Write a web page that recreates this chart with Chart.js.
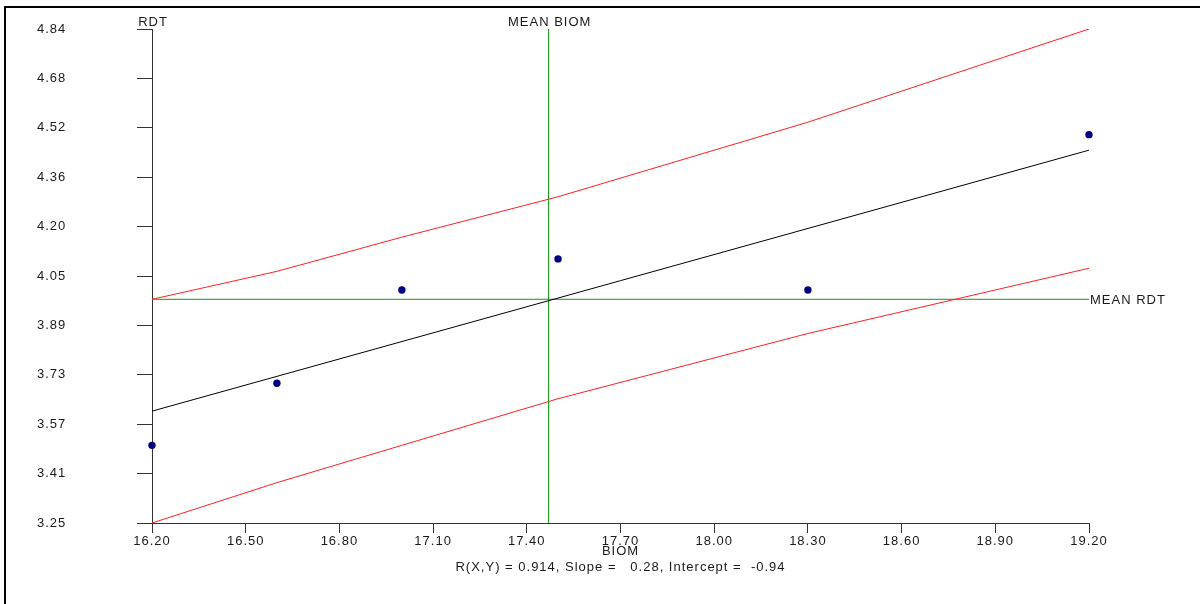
<!DOCTYPE html>
<html>
<head>
<meta charset="utf-8">
<script src="https://cdn.jsdelivr.net/npm/chart.js@4"></script>
<style>
  body { margin: 0; background: #fff; }
  #wrap { position: relative; width: 1200px; height: 604px; }
  #frame { position: absolute; left: 4px; top: 6px; right: 0; bottom: 0;
           border-top: 2px solid #000; border-left: 2px solid #000; pointer-events: none; }
</style>
</head>
<body>
<div id="wrap">
  <canvas id="chart" width="1200" height="604"></canvas>
  <div id="frame"></div>
</div>
<script>
"use strict";

// observations
const biom = [16.2, 16.6, 17.0, 17.5, 18.3, 19.2];
const rdt = [3.50, 3.70, 4.00, 4.10, 4.00, 4.50];

// fitted line and prediction band, read at each BIOM value
const fitX = [16.2, 19.2];
const fitY = [3.61, 4.45];
const bandUpper = [3.97, 4.06, 4.17, 4.30, 4.54, 4.84];
const bandLower = [3.25, 3.38, 3.50, 3.65, 3.86, 4.07];

const MEAN_BIOM = 17.47;
const MEAN_RDT = 3.97;

const xTickLabels = ["16.20", "16.50", "16.80", "17.10", "17.40", "17.70", "18.00", "18.30", "18.60", "18.90", "19.20"];
const yTickLabels = ["3.25", "3.41", "3.57", "3.73", "3.89", "4.05", "4.20", "4.36", "4.52", "4.68", "4.84"];
const X_MIN = 16.2, X_MAX = 19.2;
const Y_MIN = 3.25, Y_MAX = 4.84;

const statsText = "R(X,Y) = 0.914, Slope =   0.28, Intercept =  -0.94";

const FONT = "Arial, 'Liberation Sans', sans-serif";
const TEXT_COLOR = "#1a1a1a";

function pts(xs, ys) {
  return xs.map((x, i) => ({ x: x, y: ys[i] }));
}

function evenTicks(scale, min, max, n) {
  scale.ticks = [];
  for (let i = 0; i < n; i++) {
    scale.ticks.push({ value: min + (max - min) * i / (n - 1) });
  }
}

const lineStyle = (color) => ({
  borderColor: color,
  borderWidth: 1,
  pointRadius: 0,
  fill: false,
  tension: 0,
  showLine: true,
});

// extra labels: axis names, mean line names, statistics
const labelsPlugin = {
  id: "labels",
  beforeDraw(chart) {
    chart.ctx.letterSpacing = "1px";
  },
  afterDraw(chart) {
    const ctx = chart.ctx;
    const xs = chart.scales.x, ys = chart.scales.y;
    const area = chart.chartArea;
    ctx.save();
    ctx.letterSpacing = "1px";
    ctx.fillStyle = TEXT_COLOR;
    ctx.font = "13px " + FONT;
    ctx.textBaseline = "middle";

    ctx.textAlign = "center";
    ctx.fillText("RDT", area.left + 1, 22);
    ctx.fillText("MEAN BIOM", xs.getPixelForValue(MEAN_BIOM) + 1, 22);
    ctx.fillText("BIOM", (area.left + area.right) / 2, 551);
    ctx.fillText(statsText, (area.left + area.right) / 2, 567);

    ctx.textAlign = "left";
    ctx.fillText("MEAN RDT", area.right + 1, ys.getPixelForValue(MEAN_RDT) + 1);
    ctx.restore();
  }
};

const ctx = document.getElementById("chart").getContext("2d");
new Chart(ctx, {
  type: "scatter",
  data: {
    datasets: [
      Object.assign({ data: pts(biom, bandUpper) }, lineStyle("#ff2020")),
      Object.assign({ data: pts(biom, bandLower) }, lineStyle("#ff2020")),
      Object.assign({ data: pts(fitX, fitY) }, lineStyle("#000000")),
      Object.assign({ data: pts([X_MIN, X_MAX], [MEAN_RDT, MEAN_RDT]) }, lineStyle("#1f8f1f")),
      Object.assign({ data: pts([MEAN_BIOM, MEAN_BIOM], [Y_MIN, Y_MAX]) }, lineStyle("#008a00")),
      {
        data: pts(biom, rdt),
        pointStyle: "circle",
        pointRadius: 3.7,
        backgroundColor: "#000080",
        borderColor: "#000080",
        borderWidth: 0,
        showLine: false,
        clip: false,
      },
    ],
  },
  options: {
    responsive: false,
    animation: false,
    layout: { padding: { top: 29, right: 111, left: 37, bottom: 0 } },
    plugins: {
      legend: { display: false },
      tooltip: { enabled: false },
    },
    scales: {
      x: {
        type: "linear",
        min: X_MIN,
        max: X_MAX,
        afterBuildTicks: s => evenTicks(s, X_MIN, X_MAX, xTickLabels.length),
        afterFit: s => { s.height = 81; },
        grid: { drawOnChartArea: false, drawTicks: true, tickLength: 10, color: "#333" },
        border: { display: true, color: "#333", width: 1 },
        ticks: {
          autoSkip: false,
          maxRotation: 0,
          padding: 1,
          color: TEXT_COLOR,
          font: { family: FONT, size: 13 },
          callback: (v, i) => xTickLabels[i],
        },
      },
      y: {
        type: "linear",
        min: Y_MIN,
        max: Y_MAX,
        afterBuildTicks: s => evenTicks(s, Y_MIN, Y_MAX, yTickLabels.length),
        afterFit: s => { s.width = 115; },
        grid: { drawOnChartArea: false, drawTicks: true, tickLength: 15, color: "#333" },
        border: { display: true, color: "#333", width: 1 },
        ticks: {
          autoSkip: false,
          padding: 2,
          crossAlign: "far",
          color: TEXT_COLOR,
          font: { family: FONT, size: 13 },
          callback: (v, i) => yTickLabels[i],
        },
      },
    },
  },
  plugins: [labelsPlugin],
});
</script>
</body>
</html>
